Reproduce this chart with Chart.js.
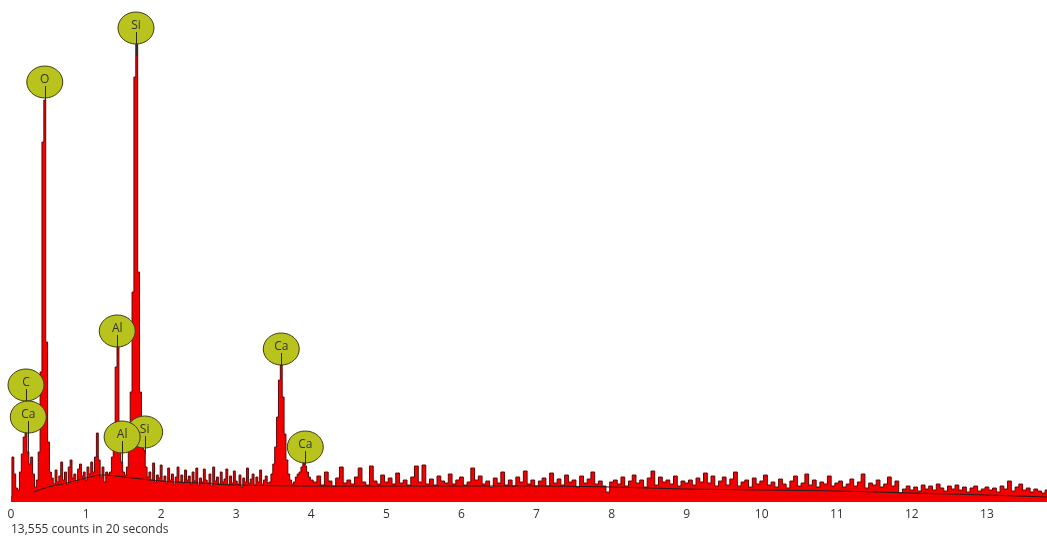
<!DOCTYPE html>
<html>
<head>
<meta charset="utf-8">
<script src="https://cdn.jsdelivr.net/npm/chart.js@4.4.1/dist/chart.umd.min.js"></script>
<style>
  html, body { margin: 0; padding: 0; background: #fff; }
  #wrap { width: 1047px; height: 536px; }
</style>
</head>
<body>
<div id="wrap"><canvas id="spectrum"></canvas></div>
<script>
// spectrum counts, 0 - 4.0 keV in 0.025 keV channels
const lowStart = 0;
const lowStep = 0.025;
const lowCounts = [
  5, 45, 28, 14, 12, 30, 48, 65,
  70, 50, 38, 45, 28, 15, 22, 50,
  130, 360, 402, 160, 60, 30, 24, 18,
  32, 20, 26, 40, 22, 30, 18, 35,
  42, 24, 28, 20, 33, 38, 26, 30,
  22, 35, 28, 40, 30, 45, 69, 42,
  25, 35, 20, 30, 28, 30, 45, 75,
  135, 155, 80, 40, 30, 27, 35, 55,
  110, 210, 425, 460, 230, 110, 70, 52,
  35, 25, 30, 22, 39, 20, 27, 24,
  37, 21, 26, 19, 34, 22, 28, 18,
  25, 35, 20, 27, 19, 32, 22, 26,
  18, 30, 21, 34, 17, 24, 20, 33,
  22, 19, 28, 16, 35, 21, 25, 18,
  30, 20, 23, 33, 17, 26, 19, 31,
  21, 18, 27, 15, 24, 20, 34, 19,
  23, 28, 17, 25, 20, 32, 18, 22,
  26, 19, 20, 28, 38, 55, 85, 122,
  137, 105, 68, 42, 28, 22, 18, 20,
  25, 28, 30, 35, 40, 36, 30, 25,
  22
];

// 4.05 - 13.8 keV in 0.05 keV channels
const highStart = 4.05;
const highStep = 0.05;
const highCounts = [
  20, 26, 17, 30, 21, 16, 24, 35, 19, 22, 18, 25, 34, 20, 17, 36, 21, 18, 27, 20,
  24, 18, 29, 19, 22, 17, 25, 36, 20, 37, 18, 23, 17, 26, 21, 19, 28, 18, 22, 25,
  17, 20, 34, 22, 26, 18, 21, 15, 24, 19, 30, 17, 22, 16, 25, 20, 31, 18, 22, 16,
  21, 24, 16, 29, 19, 23, 17, 27, 20, 22, 15, 26, 19, 23, 30, 18, 21, 16, 10, 20,
  22, 18, 25, 16, 21, 27, 19, 22, 15, 24, 31, 17, 25, 20, 22, 18, 26, 16, 21, 19,
  22, 17, 24, 20, 29, 19, 26, 16, 21, 25, 17, 23, 30, 16, 20, 22, 15, 24, 18, 21,
  27, 17, 20, 15, 23, 18, 14, 21, 26, 16, 19, 28, 17, 22, 15, 20, 18, 26, 16, 19,
  21, 15, 18, 23, 16, 20, 28, 14, 19, 17, 22, 15, 18, 25, 16, 21, 9, 13, 16, 12,
  15, 11, 17, 13, 16, 12, 18, 14, 11, 16, 13, 17, 12, 15, 10, 14, 16, 11, 13, 15,
  12, 14, 10, 16, 13, 21, 11, 15, 18, 12, 14, 10, 13, 11, 9, 12
];

// background fit curve
const bgEnergy = [0.3, 0.5, 0.8, 1.0, 1.2, 1.5, 2.0, 2.5, 3.0, 4.0, 5.0, 6.0, 7.0, 8.0, 9.0, 10.0, 11.0, 12.0, 13.0, 13.8];
const bgCounts = [10, 15, 20, 24, 27, 25, 21, 19, 17, 16, 16, 16, 16, 15, 13, 12, 11, 9, 7, 5];

// element markers: name, line energy (keV), height of the marker (counts)
const markerNames = ['Si', 'O', 'Al', 'Ca', 'C', 'Ca', 'Si', 'Al', 'Ca'];
const markerEnergy = [1.665, 0.45, 1.415, 3.6, 0.2, 0.23, 1.78, 1.48, 3.92];
const markerLevel = [474, 420, 171, 153, 117, 85, 70, 65, 55];

const countsLabel = '13,555 counts in 20 seconds';

const spectrum = [];
lowCounts.forEach((c, i) => spectrum.push({ x: +(lowStart + i * lowStep).toFixed(3), y: c }));
highCounts.forEach((c, i) => spectrum.push({ x: +(highStart + i * highStep).toFixed(3), y: c }));

function countsAt(e) {
  for (let i = 1; i < spectrum.length; i++) {
    if (spectrum[i].x >= e) {
      const a = spectrum[i - 1], b = spectrum[i];
      return a.y + (b.y - a.y) * (e - a.x) / (b.x - a.x);
    }
  }
  return 0;
}

const markerPlugin = {
  id: 'markers',
  afterDatasetsDraw(chart) {
    const ctx = chart.ctx;
    const xs = chart.scales.x, ys = chart.scales.y;
    const rx = 18, ry = 16;
    ctx.save();
    // stems
    ctx.strokeStyle = '#2a2a2a';
    ctx.lineWidth = 1;
    markerNames.forEach((n, i) => {
      const x = Math.round(xs.getPixelForValue(markerEnergy[i])) + 0.5;
      const y0 = ys.getPixelForValue(markerLevel[i]) + ry;
      const y1 = ys.getPixelForValue(countsAt(markerEnergy[i]));
      if (y1 > y0) {
        ctx.beginPath();
        ctx.moveTo(x, y0);
        ctx.lineTo(x, y1);
        ctx.stroke();
      }
    });
    // bubbles
    markerNames.forEach((n, i) => {
      const x = xs.getPixelForValue(markerEnergy[i]);
      const y = ys.getPixelForValue(markerLevel[i]);
      ctx.beginPath();
      ctx.ellipse(x, y, rx, ry, 0, 0, Math.PI * 2);
      ctx.fillStyle = '#b9c31d';
      ctx.fill();
      ctx.strokeStyle = '#3d3d12';
      ctx.stroke();
      ctx.fillStyle = '#333';
      ctx.font = '12px "Open Sans", sans-serif';
      ctx.textAlign = 'center';
      ctx.textBaseline = 'middle';
      ctx.fillText(n, x, y - 2);
      ctx.strokeStyle = '#2a2a2a';
      ctx.beginPath();
      ctx.moveTo(Math.round(x) + 0.5, y + 4);
      ctx.lineTo(Math.round(x) + 0.5, y + ry);
      ctx.stroke();
    });
    ctx.restore();
  }
};

new Chart(document.getElementById('spectrum'), {
  type: 'line',
  data: {
    datasets: [
      {
        label: 'fit',
        data: bgEnergy.map((e, i) => ({ x: e, y: bgCounts[i] })),
        borderColor: '#1e1e1e',
        borderWidth: 1,
        pointRadius: 0,
        fill: false,
        tension: 0.4
      },
      {
        label: 'spectrum',
        data: spectrum,
        borderColor: '#5a0808',
        backgroundColor: '#f40000',
        borderWidth: 1,
        pointRadius: 0,
        fill: 'origin',
        stepped: 'middle'
      }
    ]
  },
  options: {
    responsive: true,
    maintainAspectRatio: false,
    animation: false,
    layout: { padding: { left: 11, right: 0, top: 22, bottom: 0 } },
    plugins: {
      legend: { display: false },
      tooltip: { enabled: false }
    },
    scales: {
      x: {
        type: 'linear',
        min: 0,
        max: 13.8,
        grid: { display: false, drawTicks: false },
        border: { display: false },
        ticks: {
          stepSize: 1,
          includeBounds: false,
          padding: 5,
          color: '#333',
          font: { family: '"Open Sans", sans-serif', size: 12 }
        },
        title: {
          display: true,
          text: countsLabel,
          align: 'start',
          color: '#333',
          padding: { top: 0, bottom: -1 },
          font: { family: '"Open Sans", sans-serif', size: 12 }
        },
        afterFit(scale) { scale.height = 34; }
      },
      y: {
        display: false,
        min: 0,
        max: 480
      }
    }
  },
  plugins: [markerPlugin]
});
</script>
</body>
</html>
